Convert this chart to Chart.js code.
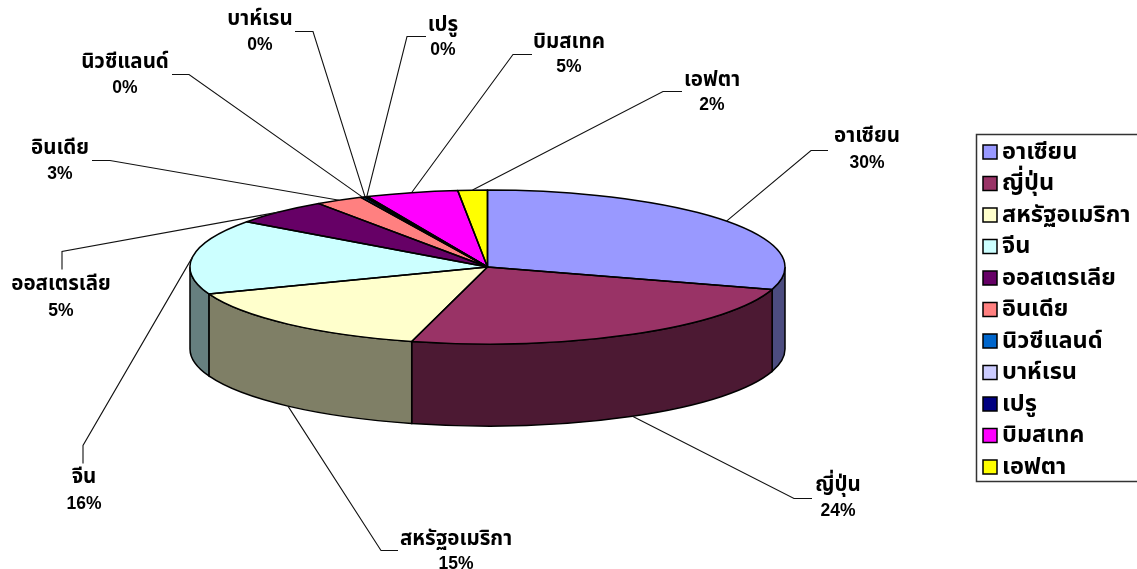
<!DOCTYPE html>
<html lang="th">
<head>
  <meta charset="UTF-8" />
  <title>สัดส่วนการค้า</title>
  <style>
    html, body { margin: 0; padding: 0; background: #fff; overflow: hidden; }
    #wrap { width: 1137px; height: 569px; }
  </style>
</head>
<body>
  <div id="wrap"><canvas id="pie"></canvas></div>

  <script src="https://cdn.jsdelivr.net/npm/chart.js"></script>
  <script>
    const categories = ['อาเซียน', 'ญี่ปุ่น', 'สหรัฐอเมริกา', 'จีน', 'ออสเตรเลีย', 'อินเดีย', 'นิวซีแลนด์', 'บาห์เรน', 'เปรู', 'บิมสเทค', 'เอฟตา'];
    const shares = [29.7, 24.4, 15.2, 15.7, 5.4, 2.6, 0.2, 0.1, 0.1, 5, 1.6];
    const colors = ['#9999FF', '#993366', '#FFFFCC', '#CCFFFF', '#660066', '#FF8080', '#0066CC', '#CCCCFF', '#000080', '#FF00FF', '#FFFF00'];

    // label layout, same order as categories: centre x, name y, pct y
    const labelX = [867, 838, 456, 84, 61, 60, 125, 260, 443, 569, 712];
    const labelY = [138, 487, 541, 479, 286, 150, 64, 21, 27, 44, 82];
    const pctY = [163, 511, 564, 504, 311, 174, 88, 45, 50, 67, 105];
    // leader lines: where they start by the label, and the elbow
    const leaderStart = [[828, 150], [812, 498], [398, 550], [83, 463], [62, 269], [92, 160], [172, 74], [295, 31], [426, 36], [532, 54], [682, 91]];
    const leaderElbow = [[811, 150], [794, 498], [381, 550], [83, 445], [62, 251], [110, 160], [189, 74], [313, 31], [407, 36], [513, 54], [663, 91]];

    const SQUASH = 77 / 297.5;
    const DEPTH = 82;
    const legendBox = { left: 976, top: 134, right: 1142, bottom: 481 };
    const swatchX = 983;
    const firstRowY = 152;
    const thaiFont = '"Noto Sans Thai", "Liberation Sans", "Noto Sans", sans-serif';

    function halfColor(hex) {
      const n = parseInt(hex.slice(1), 16);
      const r = (n >> 16) >> 1, g = ((n >> 8) & 255) >> 1, b = (n & 255) >> 1;
      return `rgb(${r},${g},${b})`;
    }

    // flattens the pie and gives it a side wall
    const pie3d = {
      id: 'pie3d',
      afterLayout(chart) {
        const lg = chart.legend;
        const pad = lg.options.labels.padding, size = lg.options.labels.font.size;
        lg.left = swatchX - pad;
        lg.right = legendBox.right;
        lg.top = firstRowY + 2 - size / 2 - pad;
        lg.bottom = legendBox.bottom + 40;
      },
      beforeDatasetsDraw(chart) {
        const ctx = chart.ctx;
        const arcs = chart.getDatasetMeta(0).data;
        const cx = arcs[0].x, cy = arcs[0].y, R = arcs[0].outerRadius, ry = R * SQUASH;

        ctx.save();
        ctx.strokeStyle = '#000';
        ctx.lineWidth = 1.5;
        arcs.forEach((arc, i) => {
          const a0 = Math.max(arc.startAngle, 0);
          const a1 = Math.min(arc.endAngle, Math.PI);
          if (a1 <= a0) return;
          ctx.beginPath();
          ctx.ellipse(cx, cy, R, ry, 0, a0, a1);
          ctx.ellipse(cx, cy + DEPTH, R, ry, 0, a1, a0, true);
          ctx.closePath();
          ctx.fillStyle = halfColor(colors[i]);
          ctx.fill();
          ctx.stroke();
        });
        ctx.restore();

        ctx.save();
        ctx.translate(cx, cy);
        ctx.scale(1, SQUASH);
        ctx.translate(-cx, -cy);
      },
      afterDatasetsDraw(chart) {
        const ctx = chart.ctx;
        ctx.restore();

        const arcs = chart.getDatasetMeta(0).data;
        const cx = arcs[0].x, cy = arcs[0].y, R = arcs[0].outerRadius, ry = R * SQUASH;

        // slice outlines, stroked unsquashed so the line stays even
        ctx.save();
        ctx.strokeStyle = '#000';
        ctx.lineWidth = 1.5;
        ctx.lineJoin = 'round';
        arcs.forEach(arc => {
          ctx.beginPath();
          ctx.moveTo(cx, cy);
          ctx.ellipse(cx, cy, R, ry, 0, arc.startAngle, arc.endAngle);
          ctx.closePath();
          ctx.stroke();
        });
        ctx.restore();

        // leader lines and data labels
        ctx.save();
        ctx.strokeStyle = '#111';
        ctx.lineWidth = 1.1;
        ctx.fillStyle = '#000';
        ctx.textAlign = 'center';
        ctx.textBaseline = 'middle';
        arcs.forEach((arc, i) => {
          const mid = (arc.startAngle + arc.endAngle) / 2;
          const px = cx + R * Math.cos(mid);
          const py = cy + ry * Math.sin(mid) + (Math.sin(mid) > 0 ? DEPTH : 0);
          ctx.beginPath();
          ctx.moveTo(leaderStart[i][0], leaderStart[i][1] + 0.5);
          ctx.lineTo(leaderElbow[i][0], leaderElbow[i][1] + 0.5);
          ctx.lineTo(px, py);
          ctx.stroke();

          ctx.font = 'bold 20.5px ' + thaiFont;
          ctx.fillText(categories[i], labelX[i], labelY[i]);
          ctx.font = 'bold 17.5px "Liberation Sans", Arial, sans-serif';
          ctx.fillText(Math.round(shares[i]) + '%', labelX[i], pctY[i]);
        });
        ctx.restore();
      },
      afterDraw(chart) {
        const ctx = chart.ctx;
        const lg = chart.legend;
        const pad = lg.options.labels.padding, size = lg.options.labels.font.size;
        ctx.save();
        ctx.strokeStyle = '#333';
        ctx.lineWidth = 1.5;
        ctx.strokeRect(legendBox.left + 0.5, legendBox.top + 0.5, legendBox.right - legendBox.left, legendBox.bottom - legendBox.top);
        // legend swatches are wider than the gap the library leaves before the text
        ctx.strokeStyle = '#000';
        ctx.lineWidth = 1.5;
        colors.forEach((c, i) => {
          const y = firstRowY + i * (size + pad) - 7;
          ctx.fillStyle = c;
          ctx.fillRect(swatchX, y, 14, 14);
          ctx.strokeRect(swatchX, y, 14, 14);
        });
        ctx.restore();
      }
    };

    new Chart(document.getElementById('pie'), {
      type: 'pie',
      data: {
        labels: categories,
        datasets: [{
          data: shares,
          backgroundColor: colors,
          borderWidth: 0,
          clip: false
        }]
      },
      options: {
        responsive: true,
        maintainAspectRatio: false,
        animation: false,
        radius: 297.5,
        layout: { padding: { left: 0, right: 162, top: 0, bottom: 35 } },
        plugins: {
          tooltip: { enabled: false },
          legend: {
            position: 'chartArea',
            align: 'start',
            labels: {
              boxWidth: 7.25,
              boxHeight: 7.25,
              padding: 8,
              color: '#000',
              font: { size: 23.5, weight: 'bold', family: thaiFont }
            }
          }
        }
      },
      plugins: [pie3d]
    });
  </script>
</body>
</html>
